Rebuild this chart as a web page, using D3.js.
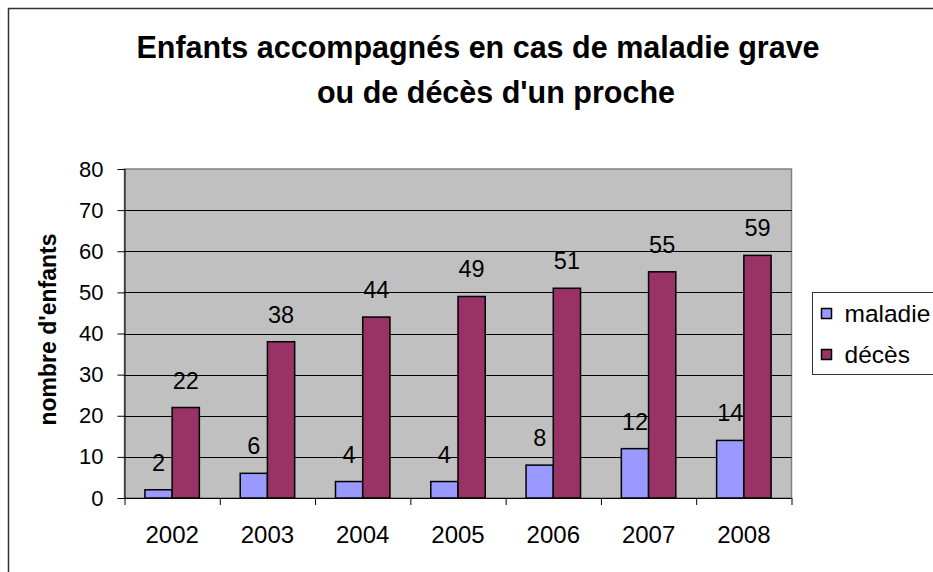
<!DOCTYPE html>
<html>
<head>
<meta charset="utf-8">
<script src="https://cdn.jsdelivr.net/npm/d3@7"></script>
<style>
    body { margin: 0; background: #fff; }
    svg { display: block; font-family: "Liberation Sans", Arial, sans-serif; }
</style>
</head>
<body>
<svg id="chart"></svg>
<script>
const years = ["2002", "2003", "2004", "2005", "2006", "2007", "2008"];
const maladie = [2, 6, 4, 4, 8, 12, 14];
const deces = [22, 38, 44, 49, 51, 55, 59];
const seriesNames = ["maladie", "décès"];
const seriesColors = ["#9999FF", "#993366"];
const yTicks = [0, 10, 20, 30, 40, 50, 60, 70, 80];
const titleLines = ["Enfants accompagnés en cas de maladie grave", "ou de décès d'un proche"];

class BarChart {
    constructor(_config) {
        this.config = {
            parentElement: _config.parentElement,
            containerWidth: _config.containerWidth || 933,
            containerHeight: _config.containerHeight || 572,
        }
        this.config.margin = _config.margin || { top: 169, bottom: 74, right: 141.5, left: 124.5 }
        this.initVis();
    }

    initVis() {
        let vis = this;

        vis.width = vis.config.containerWidth - vis.config.margin.left - vis.config.margin.right;
        vis.height = vis.config.containerHeight - vis.config.margin.top - vis.config.margin.bottom;

        vis.svg = d3.select(vis.config.parentElement)
            .attr("width", vis.config.containerWidth)
            .attr("height", vis.config.containerHeight);

        // outer chart border, runs off the right and bottom edges
        vis.svg.append("rect")
            .attr("x", 8.5).attr("y", 8.5)
            .attr("width", 1000).attr("height", 1000)
            .attr("fill", "none")
            .attr("stroke", "#333")
            .attr("stroke-width", 1.5);

        vis.svg.append("text")
            .attr("text-anchor", "middle")
            .attr("font-weight", "bold")
            .attr("font-size", 30.5)
            .selectAll("tspan")
            .data(titleLines)
            .join("tspan")
            .attr("x", (d, i) => i == 0 ? 478 : 496)
            .attr("y", (d, i) => 58 + i * 45)
            .text(d => d);

        vis.chart = vis.svg.append("g").attr("transform", `translate(${vis.config.margin.left},${vis.config.margin.top})`);

        vis.chart.append("text")
            .attr("transform", `translate(${48 - vis.config.margin.left + 8},${vis.height / 2 - 4}) rotate(-90)`)
            .attr("text-anchor", "middle")
            .attr("font-weight", "bold")
            .attr("font-size", 23)
            .text("nombre d'enfants");

        vis.xScale = d3.scaleBand().domain(years).range([0, vis.width]);
        vis.xInner = d3.scaleBand().domain(seriesNames).range([0, vis.xScale.bandwidth()]).paddingOuter(0.75);
        vis.yScale = d3.scaleLinear().domain([0, 80]).range([vis.height, 0]);
    }

    update() {
        let vis = this;
        vis.groups = years.map((y, i) => ({
            year: y,
            values: [{ key: seriesNames[0], value: maladie[i] }, { key: seriesNames[1], value: deces[i] }]
        }));
        vis.render();
    }

    render() {
        let vis = this;

        vis.chart.append("rect")
            .attr("width", vis.width).attr("height", vis.height)
            .attr("fill", "#C0C0C0")
            .attr("stroke", "#808080")
            .attr("stroke-width", 1.5);

        vis.chart.append("g")
            .selectAll("line")
            .data(yTicks.filter(d => d > 0 && d < 80))
            .join("line")
            .attr("x1", 0).attr("x2", vis.width)
            .attr("y1", d => Math.round(vis.yScale(d)) + 0.5)
            .attr("y2", d => Math.round(vis.yScale(d)) + 0.5)
            .attr("stroke", "#000");

        let yAxis = d3.axisLeft(vis.yScale).tickValues(yTicks).tickSize(7).tickPadding(14);
        vis.chart.append("g")
            .call(yAxis)
            .call(g => g.select(".domain").attr("stroke", "#000").attr("d", `M0.5,${vis.height}V0`))
            .call(g => g.selectAll("text").attr("font-size", 22).attr("font-family", "Liberation Sans, Arial, sans-serif").attr("fill", "#000"));

        let xAxis = d3.axisBottom(vis.xScale).tickSize(0).tickPadding(28);
        vis.chart.append("g")
            .attr("transform", `translate(0,${vis.height})`)
            .call(xAxis)
            .call(g => g.select(".domain").attr("stroke", "#000").attr("d", `M0,0.5H${vis.width}`))
            .call(g => g.selectAll("text").attr("font-size", 24).attr("font-family", "Liberation Sans, Arial, sans-serif").attr("fill", "#000"));

        // category separators on the x axis
        vis.chart.append("g")
            .selectAll("line")
            .data(d3.range(years.length + 1))
            .join("line")
            .attr("x1", d => d * vis.xScale.step() + 0.5)
            .attr("x2", d => d * vis.xScale.step() + 0.5)
            .attr("y1", vis.height).attr("y2", vis.height + 7)
            .attr("stroke", "#000");

        let group = vis.chart.append("g")
            .selectAll("g")
            .data(vis.groups)
            .join("g")
            .attr("transform", d => `translate(${vis.xScale(d.year)},0)`);

        group.selectAll("rect")
            .data(d => d.values)
            .join("rect")
            .attr("x", d => vis.xInner(d.key))
            .attr("y", d => vis.yScale(d.value))
            .attr("width", vis.xInner.bandwidth())
            .attr("height", d => vis.height - vis.yScale(d.value))
            .attr("fill", (d, i) => seriesColors[i])
            .attr("stroke", "#000")
            .attr("stroke-width", 1.5);

        group.selectAll("text")
            .data(d => d.values)
            .join("text")
            .attr("x", d => vis.xInner(d.key) + vis.xInner.bandwidth() / 2)
            .attr("y", d => vis.yScale(d.value) - 19)
            .attr("text-anchor", "middle")
            .attr("font-size", 23.5)
            .text(d => d.value);

        // legend, cut off by the right edge like the original
        let legend = vis.svg.append("g").attr("transform", "translate(812.5,292.5)");
        legend.append("rect")
            .attr("width", 200).attr("height", 82)
            .attr("fill", "#fff")
            .attr("stroke", "#333");
        let item = legend.selectAll(".item")
            .data(seriesNames)
            .join("g")
            .attr("class", "item")
            .attr("transform", (d, i) => `translate(0,${i * 41})`);
        item.append("rect")
            .attr("x", 9).attr("y", 16)
            .attr("width", 10).attr("height", 10)
            .attr("fill", (d, i) => seriesColors[i])
            .attr("stroke", "#000")
            .attr("stroke-width", 1.5);
        item.append("text")
            .attr("x", 32).attr("y", 29)
            .attr("font-size", 24.5)
            .text(d => d);
    }
}

let chart = new BarChart({ parentElement: "#chart" });
chart.update();
</script>
</body>
</html>
